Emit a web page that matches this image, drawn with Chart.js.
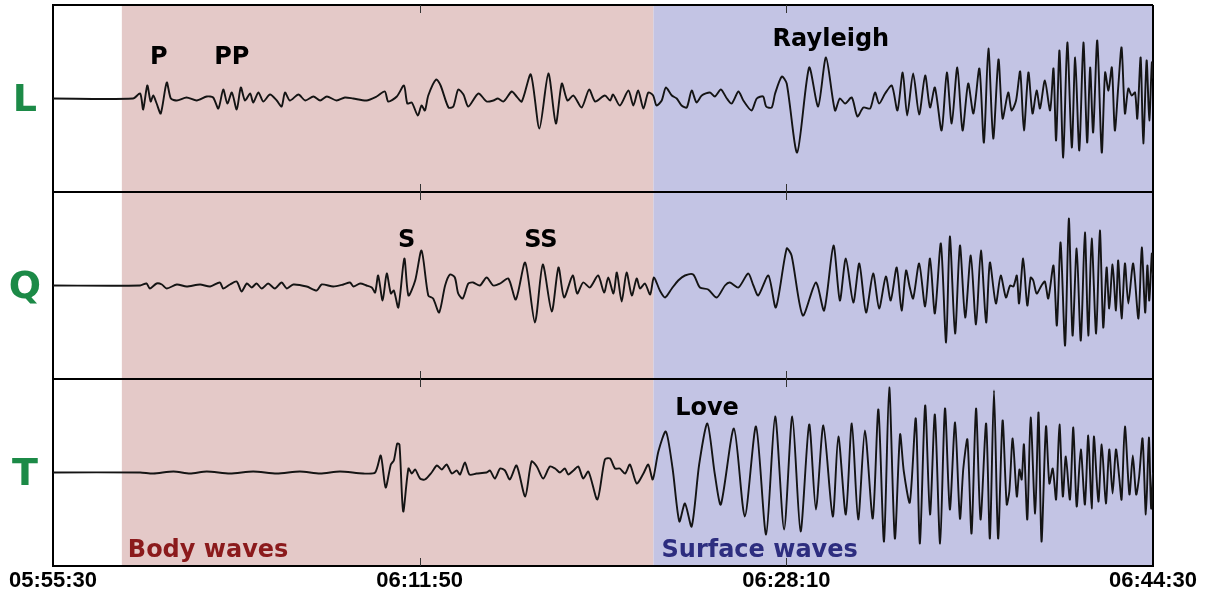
<!DOCTYPE html>
<html>
<head>
<meta charset="utf-8">
<script src="https://cdn.jsdelivr.net/npm/chart.js@4/dist/chart.umd.min.js"></script>
<style>
html, body { margin: 0; padding: 0; background: #ffffff; }
#wrap { width: 1206px; height: 596px; }
</style>
</head>
<body>
<div id="wrap"><canvas id="c" width="1206" height="596"></canvas></div>
<script>
// ---------- data ----------
// time axis: seconds after 05:55:30
const tickTimes = [0, 980, 1960, 2940];
const tickLabels = ['05:55:30', '06:11:50', '06:28:10', '06:44:30'];

// components (top to bottom) and their baselines (panel centres)
const componentLabels = ['L', 'Q', 'T'];
const componentBaselines = [2.5, 1.5, 0.5];

// wave windows (seconds)
const bodyWaveWindow = [184, 1605];
const surfaceWaveWindow = [1605, 2940];
const windowNames = ['Body waves', 'Surface waves'];

// phase picks
const phaseNames = ['P', 'PP', 'S', 'SS', 'Rayleigh', 'Love'];
const phaseTimes = [283, 478, 945, 1304, 2079, 1748];
const phaseComponents = ['L', 'L', 'Q', 'Q', 'L', 'T'];

// traces: [time (s), amplitude (counts)]
const lTrace = [[0,0],[214,0],[233,5],[241,-11],[252,13],[261,-3],[268,3],[277,-5],[288,-15],[304,16],[315,0],[331,-2],[357,1],[384,-2],[411,2],[428,1],[442,-10],[455,9],[466,-5],[478,6],[491,-11],[502,11],[513,-2],[527,5],[535,-4],[549,6],[562,-3],[580,4],[598,-2],[611,-8],[620,6],[633,-2],[656,4],[674,-2],[696,2],[714,-2],[732,2],[758,-2],[780,1],[802,0],[838,-2],[865,2],[887,7],[896,-3],[919,2],[938,13],[947,-5],[959,-4],[975,-17],[985,-7],[994,-12],[1003,3],[1024,19],[1036,13],[1057,-9],[1070,-8],[1083,9],[1097,4],[1110,-8],[1137,5],[1159,-3],[1177,-2],[1189,0],[1204,-3],[1226,7],[1239,2],[1253,-3],[1277,24],[1300,-30],[1324,25],[1344,-25],[1360,15],[1375,-2],[1391,3],[1413,-9],[1433,9],[1449,-3],[1475,3],[1489,-2],[1497,4],[1515,-7],[1538,8],[1551,-7],[1564,8],[1578,-10],[1591,6],[1604,3],[1613,-7],[1627,-2],[1638,11],[1654,3],[1667,0],[1680,-7],[1694,-9],[1707,8],[1720,-4],[1734,3],[1756,6],[1769,2],[1785,9],[1801,0],[1814,-5],[1832,7],[1845,-2],[1867,-12],[1881,0],[1898,2],[1906,-8],[1921,-9],[1930,5],[1948,22],[1961,15],[1989,-54],[2021,31],[2045,-8],[2066,41],[2090,-12],[2103,0],[2117,-5],[2135,1],[2150,-18],[2166,-9],[2184,-10],[2197,6],[2208,-5],[2224,5],[2242,13],[2257,-12],[2271,26],[2283,-17],[2299,25],[2315,-16],[2331,23],[2344,-9],[2357,11],[2375,-32],[2389,26],[2402,-25],[2417,31],[2431,-32],[2446,15],[2460,-15],[2476,30],[2488,-44],[2500,50],[2513,-40],[2527,39],[2538,-20],[2553,6],[2562,-12],[2574,-2],[2585,27],[2595,-32],[2607,26],[2618,-15],[2629,8],[2638,-10],[2651,18],[2665,-12],[2674,30],[2681,-42],[2690,48],[2700,-59],[2711,56],[2723,-49],[2732,41],[2743,-52],[2754,56],[2764,-44],[2772,31],[2780,-34],[2791,58],[2803,-54],[2812,26],[2821,8],[2830,31],[2838,-32],[2847,11],[2856,51],[2865,-15],[2874,10],[2883,3],[2892,6],[2898,-20],[2907,41],[2914,-45],[2923,38],[2930,-22],[2937,36],[2940,20]];

const qTrace = [[0,0],[233,0],[250,2],[259,-3],[277,2],[291,1],[304,-3],[331,1],[357,-1],[393,1],[420,-1],[446,3],[455,-3],[473,1],[491,4],[504,-6],[518,2],[531,-2],[544,2],[558,-3],[575,2],[593,-3],[611,3],[625,-3],[642,1],[678,-1],[705,-5],[718,1],[749,-1],[776,1],[794,3],[803,-1],[821,2],[838,0],[852,-2],[861,-7],[869,10],[881,-15],[892,12],[903,-8],[911,-5],[923,-22],[939,27],[950,-10],[968,5],[985,35],[1003,-10],[1016,-13],[1032,-27],[1048,0],[1061,11],[1074,8],[1083,-8],[1095,-13],[1110,2],[1123,3],[1141,0],[1159,8],[1177,0],[1195,2],[1217,7],[1237,-14],[1262,23],[1288,-37],[1309,21],[1333,-26],[1351,18],[1366,-12],[1389,10],[1401,-8],[1417,3],[1435,-2],[1457,10],[1473,-7],[1484,8],[1498,-8],[1507,13],[1520,-16],[1533,13],[1547,-10],[1560,7],[1569,-3],[1582,2],[1596,-9],[1606,8],[1622,-5],[1636,-12],[1654,-3],[1671,5],[1689,10],[1711,11],[1729,-2],[1751,-4],[1774,-12],[1796,0],[1809,3],[1832,-2],[1858,12],[1872,0],[1885,-10],[1912,10],[1932,-22],[1961,37],[1974,30],[2004,-30],[2039,3],[2061,-25],[2086,40],[2103,-15],[2119,27],[2139,-17],[2155,22],[2173,-27],[2192,12],[2208,-23],[2226,9],[2239,-15],[2255,18],[2268,-25],[2280,15],[2290,-2],[2299,-13],[2315,22],[2331,-21],[2344,27],[2357,-28],[2373,42],[2387,-57],[2397,49],[2411,-48],[2424,40],[2438,-32],[2453,30],[2467,-39],[2480,35],[2494,-37],[2504,23],[2520,-18],[2533,10],[2547,-12],[2558,0],[2567,-1],[2576,10],[2582,-18],[2593,27],[2604,-20],[2613,8],[2620,5],[2629,-8],[2642,0],[2651,4],[2660,-13],[2674,20],[2683,-40],[2693,43],[2705,-60],[2715,67],[2725,-50],[2736,37],[2747,-55],[2758,53],[2767,-50],[2776,47],[2788,-48],[2798,55],[2807,-42],[2816,18],[2823,-23],[2832,21],[2841,-25],[2847,25],[2856,-33],[2865,22],[2874,-18],[2887,22],[2901,-33],[2910,38],[2919,-27],[2925,20],[2930,-15],[2937,32],[2940,10]];

const tTrace = [[0,0],[233,0],[268,-1],[322,1],[366,-1],[411,1],[473,-1],[535,1],[598,-1],[660,1],[714,-1],[767,1],[829,-1],[861,0],[876,17],[889,-15],[903,8],[911,12],[920,29],[926,28],[936,-39],[950,4],[959,-1],[968,3],[981,-6],[994,-7],[1012,0],[1026,7],[1039,3],[1052,8],[1066,-1],[1079,2],[1088,-2],[1101,10],[1113,-2],[1132,-1],[1159,0],[1168,2],[1181,-6],[1195,4],[1208,2],[1221,-7],[1239,7],[1262,-24],[1279,11],[1293,6],[1310,-6],[1328,6],[1342,4],[1355,0],[1368,4],[1377,-2],[1391,2],[1404,6],[1417,-6],[1431,1],[1455,-27],[1475,13],[1489,14],[1502,4],[1515,4],[1529,-1],[1542,8],[1560,-11],[1578,-1],[1591,8],[1603,-7],[1618,21],[1638,41],[1656,4],[1674,-49],[1689,-31],[1707,-54],[1727,8],[1749,49],[1769,-2],[1785,-32],[1820,44],[1849,-44],[1879,46],[1906,-62],[1930,56],[1954,-57],[1976,56],[1998,-59],[2021,48],[2039,-37],[2059,47],[2084,-44],[2099,36],[2119,-42],[2135,49],[2152,-47],[2170,42],[2191,-46],[2206,63],[2221,-69],[2235,85],[2250,-66],[2264,38],[2274,1],[2290,-30],[2306,54],[2317,-71],[2331,67],[2344,-42],[2357,58],[2371,-71],[2384,64],[2397,-37],[2411,50],[2424,-46],[2433,4],[2444,33],[2455,-61],[2467,64],[2479,-47],[2494,49],[2504,-66],[2515,82],[2526,-66],[2538,52],[2549,-32],[2556,-19],[2565,34],[2576,-24],[2583,3],[2589,-7],[2595,28],[2604,-47],[2613,55],[2625,-41],[2634,60],[2642,-69],[2654,46],[2663,-11],[2672,4],[2681,-27],[2690,48],[2699,-24],[2707,16],[2718,-27],[2727,45],[2736,-34],[2747,23],[2758,-32],[2767,37],[2776,-36],[2782,36],[2794,-29],[2803,28],[2814,-31],[2823,23],[2832,-21],[2841,23],[2850,-6],[2856,-27],[2865,46],[2877,-22],[2886,17],[2895,-22],[2903,-4],[2912,34],[2921,-42],[2929,35],[2935,-36],[2940,0]];

// ---------- rendering ----------
const COUNTS_PER_PANEL = 187; // gain: amplitude counts spanning one panel
const traces = [lTrace, qTrace, tTrace];

function toPoints(trace, base) {
  return trace.map(([t, a]) => ({ x: t, y: base + a / COUNTS_PER_PANEL }));
}

const style = {
  bodyFill: '#e4c9c8',
  surfaceFill: '#c3c4e4',
  bodyText: '#8b1a1c',
  surfaceText: '#2d2d7f',
  compText: '#1c8a47',
  labelFont: 'bold 24px "DejaVu Sans"',
  phaseLift: [41, 41, 45, 45, 59, 64] // px above baseline for phase labels
};

const backgroundPlugin = {
  id: 'waveWindows',
  beforeDraw(chart) {
    const { ctx, chartArea: a, scales: { x } } = chart;
    ctx.save();
    const b0 = x.getPixelForValue(bodyWaveWindow[0]);
    const b1 = x.getPixelForValue(bodyWaveWindow[1]);
    const s0 = x.getPixelForValue(surfaceWaveWindow[0]);
    const s1 = x.getPixelForValue(surfaceWaveWindow[1]);
    ctx.fillStyle = style.bodyFill;
    ctx.fillRect(b0, a.top, b1 - b0, a.bottom - a.top);
    ctx.fillStyle = style.surfaceFill;
    ctx.fillRect(s0, a.top, s1 - s0, a.bottom - a.top);
    ctx.restore();
  }
};

const overlayPlugin = {
  id: 'overlay',
  afterDatasetsDraw(chart) {
    const { ctx, chartArea: a, scales: { x, y } } = chart;
    ctx.save();
    // inner tick marks at panel edges
    ctx.strokeStyle = '#333';
    ctx.lineWidth = 1;
    tickTimes.slice(1, -1).forEach(t => {
      const px = Math.round(x.getPixelForValue(t)) + 0.5;
      [0, 1, 2, 3].forEach(v => {
        const py = y.getPixelForValue(v);
        const y0 = v === 3 ? py : py - 8;
        const y1 = v === 0 ? py : py + 8;
        ctx.beginPath();
        ctx.moveTo(px, y0);
        ctx.lineTo(px, y1);
        ctx.stroke();
      });
    });
    // phase labels
    ctx.font = style.labelFont;
    ctx.fillStyle = '#000';
    ctx.textAlign = 'center';
    ctx.textBaseline = 'middle';
    phaseNames.forEach((name, i) => {
      const base = componentBaselines[componentLabels.indexOf(phaseComponents[i])];
      ctx.fillText(name, x.getPixelForValue(phaseTimes[i]), y.getPixelForValue(base) - style.phaseLift[i]);
    });
    // window labels
    ctx.textAlign = 'left';
    ctx.fillStyle = style.bodyText;
    ctx.fillText(windowNames[0], x.getPixelForValue(bodyWaveWindow[0]) + 6, a.bottom - 15);
    ctx.fillStyle = style.surfaceText;
    ctx.fillText(windowNames[1], x.getPixelForValue(surfaceWaveWindow[0]) + 8, a.bottom - 15);
    ctx.restore();
  }
};

new Chart(document.getElementById('c'), {
  type: 'line',
  data: {
    datasets: traces.map((tr, i) => ({
      label: componentLabels[i],
      data: toPoints(tr, componentBaselines[i]),
      borderColor: '#141414',
      borderWidth: 1.9,
      pointRadius: 0,
      tension: 0.25,
      fill: false
    }))
  },
  options: {
    responsive: false,
    animation: false,
    layout: { padding: { top: 5, right: 53, left: 0, bottom: 0 } },
    plugins: { legend: { display: false }, tooltip: { enabled: false } },
    scales: {
      x: {
        type: 'linear',
        min: tickTimes[0],
        max: tickTimes[tickTimes.length - 1],
        afterBuildTicks: s => { s.ticks = tickTimes.map(v => ({ value: v })); },
        afterFit: s => { s.height = 30; },
        ticks: {
          callback: (v, i) => tickLabels[i],
          font: { family: '"Liberation Sans"', weight: 'bold', size: 22 },
          color: '#000',
          padding: 2,
          maxRotation: 0,
          autoSkip: false
        },
        grid: {
          drawTicks: false,
          lineWidth: 2,
          color: c => (c.tick && c.tick.value === tickTimes[tickTimes.length - 1]) ? '#000' : 'rgba(0,0,0,0)'
        },
        border: { display: true, color: '#000', width: 2 }
      },
      y: {
        type: 'linear',
        min: 0,
        max: 3,
        afterBuildTicks: s => { s.ticks = [0, 0.5, 1, 1.5, 2, 2.5, 3].map(v => ({ value: v })); },
        afterFit: s => { s.width = 53; s.paddingTop = 0; s.paddingBottom = 0; },
        ticks: {
          callback: v => { const i = componentBaselines.indexOf(v); return i >= 0 ? componentLabels[i] : []; },
          font: { family: '"DejaVu Sans"', weight: 'bold', size: 38 },
          color: style.compText,
          padding: 12,
          crossAlign: 'center',
          labelOffset: 3,
          autoSkip: false
        },
        grid: {
          drawTicks: false,
          lineWidth: 2,
          color: c => (c.tick && Number.isInteger(c.tick.value) && c.tick.value > 0) ? '#000' : 'rgba(0,0,0,0)'
        },
        border: { display: true, color: '#000', width: 2 }
      }
    }
  },
  plugins: [backgroundPlugin, overlayPlugin]
});
</script>
</body>
</html>
